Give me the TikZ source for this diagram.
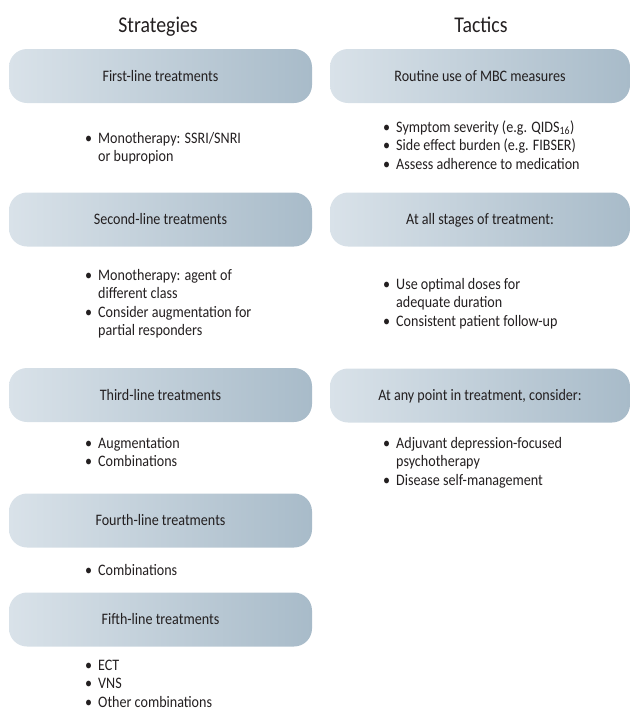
\documentclass[tikz,border=0pt]{standalone}
\usepackage{fontspec}
\setmainfont{Carlito}[FakeStretch=0.88]
\definecolor{boxlight}{HTML}{D9E2E9}
\definecolor{boxdark}{HTML}{A8BBC9}
\definecolor{ink}{HTML}{231F20}
\newcommand{\bulletlist}[1]{\begin{tabular}[t]{@{}l@{\hspace{6pt}}l@{}}#1\end{tabular}}
\tikzset{
  stage/.style={rounded corners=18pt, left color=boxlight, right color=boxdark,
    minimum height=54pt, text height=10.5pt, text depth=0pt, align=center,
    text=ink, font=\fontsize{16}{18}\selectfont},
  items/.style={anchor=base west, inner sep=0pt, text=ink,
    font=\fontsize{16}{18.5}\selectfont},
  heading/.style={anchor=base, text=ink, font=\fontsize{22.5}{26}\selectfont}
}
\begin{document}
\begin{tikzpicture}[x=1pt,y=-1pt]
  \useasboundingbox (0,0) rectangle (631,713);
  \draw
    (158,32) node[heading] (strat){Strategies}
    (481,32) node[heading] (tact){Tactics};
  % strategies
  \begin{scope}[every node/.append style={minimum width=303pt}]
    \node[stage] (first) at (160.5,76) {First-line treatments};
    \node[stage] (second) at (160.5,219.5) {Second-line treatments};
    \node[stage] (third) at (160.5,395) {Third-line treatments};
    \node[stage] (fourth) at (160.5,520.5) {Fourth-line treatments};
    \node[stage] (fifth) at (160.5,619.5) {Fifth-line treatments};
  \end{scope}
  \node[items] (firstlist) at (85,143) {\bulletlist{
    \textbullet & Monotherapy: SSRI/SNRI\\ & or bupropion}};
  \node[items] (secondlist) at (85,280) {\bulletlist{
    \textbullet & Monotherapy: agent of\\ & different class\\
    \textbullet & Consider augmentation for\\ & partial responders}};
  \node[items] (thirdlist) at (85,448) {\bulletlist{
    \textbullet & Augmentation\\ \textbullet & Combinations}};
  \node[items] (fourthlist) at (85,575) {\bulletlist{
    \textbullet & Combinations}};
  \node[items] (fifthlist) at (85,670) {\bulletlist{
    \textbullet & ECT\\ \textbullet & VNS\\ \textbullet & Other combinations}};
  % tactics
  \begin{scope}[every node/.append style={minimum width=300pt}]
    \node[stage] (mbc) at (480,76) {Routine use of MBC measures};
    \node[stage] (allstages) at (480,219.5) {At all stages of treatment:};
    \node[stage] (anypoint) at (480,395.5) {At any point in treatment, consider:};
  \end{scope}
  \node[items] (mbclist) at (383,132) {\bulletlist{
    \textbullet & Symptom severity (e.g. QIDS\textsubscript{16})\\
    \textbullet & Side effect burden (e.g. FIBSER)\\
    \textbullet & Assess adherence to medication}};
  \node[items] (allstageslist) at (383,289) {\bulletlist{
    \textbullet & Use optimal doses for\\ & adequate duration\\
    \textbullet & Consistent patient follow-up}};
  \node[items] (anypointlist) at (383,448) {\bulletlist{
    \textbullet & Adjuvant depression-focused\\ & psychotherapy\\
    \textbullet & Disease self-management}};
\end{tikzpicture}
\end{document}
